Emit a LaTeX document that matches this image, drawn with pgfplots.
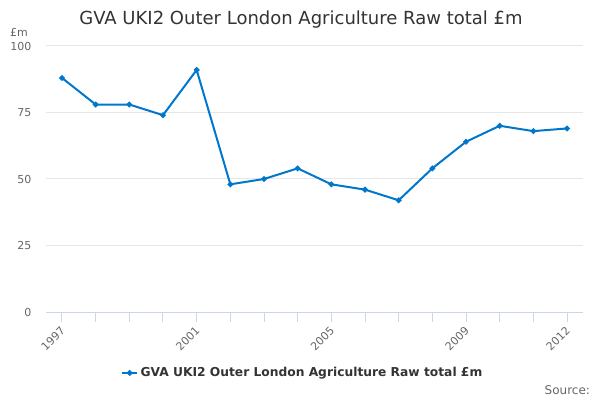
\documentclass[border=0pt]{standalone}
\usepackage{pgfplots}
\pgfplotsset{compat=1.18}
\usepackage{fontspec}
\setmainfont{DejaVu Sans}
\definecolor{linec}{RGB}{0,119,204}
\definecolor{gridc}{RGB}{230,230,230}
\definecolor{axisc}{RGB}{204,214,235}
\definecolor{txt}{RGB}{51,51,51}
\definecolor{lbl}{RGB}{102,102,102}
\begin{document}
\begin{tikzpicture}
\path[use as bounding box] (0,0) rectangle (450pt,300pt);
\begin{axis}[
  at={(34.5pt,66pt)}, anchor=south west, scale only axis,
  width=402.75pt, height=199.5pt,
  xmin=1996.525, xmax=2012.475, ymin=0, ymax=100,
  separate axis lines,
  axis x line*=bottom, axis y line*=left,
  x axis line style={draw=axisc, line width=0.75pt, -},
  y axis line style={draw=none},
  ytick={0,25,50,75,100},
  ymajorgrids, grid style={draw=gridc, line width=0.75pt},
  y tick style={draw=none},
  x tick style={draw=axisc, line width=0.75pt},
  tick align=outside, major tick length=7.5pt, minor tick length=7.5pt,
  xtick={1997,2001,2005,2009,2012},
  minor xtick={1998,1999,2000,2002,2003,2004,2006,2007,2008,2010,2011},
  /pgf/number format/1000 sep={},
  xticklabel style={rotate=45, anchor=east, yshift=-4pt, xshift=0.5pt, font=\fontsize{8.25}{10}\selectfont, text=lbl},
  yticklabel style={font=\fontsize{8.25}{10}\selectfont, text=lbl},
  /pgf/number format/assume math mode=true,
  legend style={at={(0.479,-0.229)}, anchor=center, draw=none, fill=none,
    font=\bfseries\fontsize{9.2}{11}\selectfont, text=txt,
    /tikz/every odd column/.append style={xshift=-2pt}},
  legend image code/.code={\draw[mark repeat=2,mark phase=2] plot coordinates {(0cm,0cm) (0.19cm,0cm) (0.38cm,0cm)};},
]
\addplot[color=linec, line width=1.5pt, mark=*, mark size=1.3pt] coordinates {
(1997,88) (1998,78) (1999,78) (2000,74) (2001,91) (2002,48) (2003,50) (2004,54)
(2005,48) (2006,46) (2007,42) (2008,54) (2009,64) (2010,70) (2011,68) (2012,69)};
\addlegendentry{GVA UKI2 Outer London Agriculture Raw total £m}
\end{axis}
\node[font=\fontsize{13.5}{16}\selectfont, text=txt] at (225.75pt,285pt) {GVA UKI2 Outer London Agriculture Raw total £m};
\node[font=\fontsize{8.25}{10}\selectfont, text=lbl] at (14.25pt,276pt) {£m};
\node[font=\fontsize{9}{11}\selectfont, text=lbl, anchor=east] at (446pt,7.5pt) {Source:};
\end{tikzpicture}
\end{document}
